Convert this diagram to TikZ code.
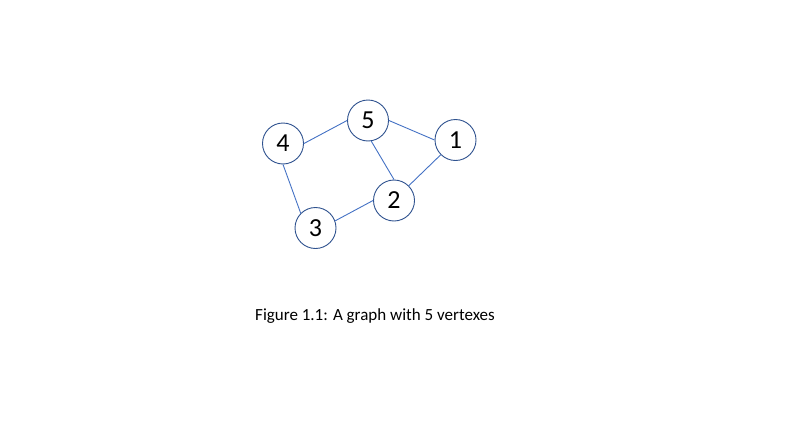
\documentclass[tikz,border=0pt]{standalone}
\usepackage{fontspec}
\setmainfont{Carlito}
\definecolor{ringblue}{HTML}{2F528F}
\definecolor{edgeblue}{HTML}{4472C4}
\begin{document}
\begin{tikzpicture}[x=1pt,y=-1pt,
  vertex/.style={circle,draw=ringblue,line width=0.9pt,fill=white,minimum size=41pt,inner sep=0pt,font=\fontsize{26}{30}\selectfont},
  edge/.style={draw=edgeblue,line width=0.9pt}]
\useasboundingbox (0,0) rectangle (790,439);
\node[vertex] (v5) at (368,120.5) {5};
\node[vertex] (v1) at (455.5,140) {1};
\node[vertex] (v4) at (283,143.5) {4};
\node[vertex] (v2) at (394,200.5) {2};
\node[vertex] (v3) at (315.5,228) {3};
\draw[edge] (v4.east) -- (v5.west);
\draw[edge] (v5.east) -- (v1.west);
\draw[edge] (v5.-81) -- (v2.north);
\draw[edge] (v1.south west) -- (v2.north east);
\draw[edge] (v4.south) -- (v3.north west);
\draw[edge] (v3.20) -- (v2.west);
\node[font=\fontsize{17}{20}\selectfont,anchor=base west,inner sep=0pt] (cap) at (255,320) {Figure 1.1: A graph with 5 vertexes};
\end{tikzpicture}
\end{document}
